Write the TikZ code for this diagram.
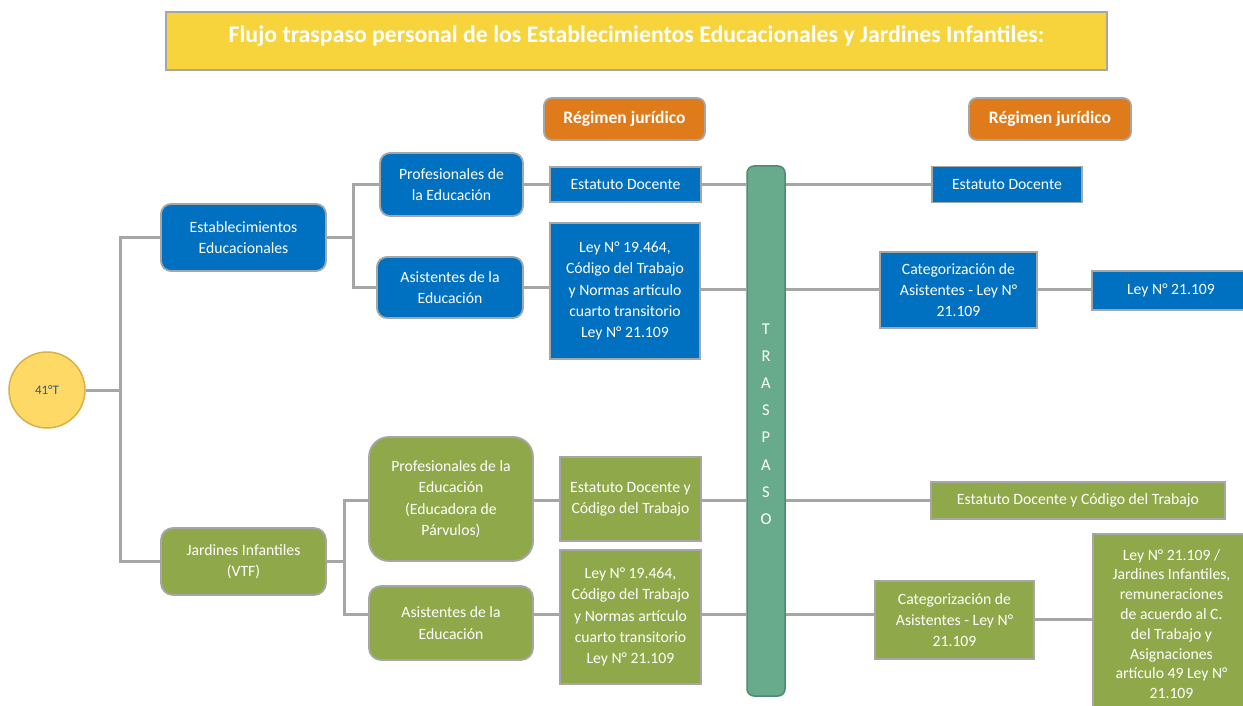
\documentclass[tikz,border=0pt]{standalone}
\usepackage{fontspec}
\setmainfont{Carlito}
\usetikzlibrary{backgrounds}
\definecolor{myblue}{HTML}{0070C0}
\definecolor{mygreen}{HTML}{8FA94A}
\definecolor{trasgreen}{HTML}{67AB8C}
\definecolor{trasborder}{HTML}{4F8A70}
\definecolor{myorange}{HTML}{E07B1C}
\definecolor{myyellow}{HTML}{F8D43C}
\definecolor{circfill}{HTML}{FFD966}
\definecolor{circborder}{HTML}{D9B04A}
\definecolor{boxborder}{HTML}{A6A6A6}
\definecolor{conncol}{HTML}{A6A6A6}
\definecolor{circtext}{HTML}{1F5C99}
\begin{document}
\begin{tikzpicture}[x=1pt,y=-1pt,
  base/.style={draw=boxborder, line width=1.8pt, text=white, align=center, inner sep=0pt,
    font=\fontsize{15.7}{21.3}\selectfont},
  blueR/.style={base, fill=myblue, rounded corners=10pt},
  blueS/.style={base, fill=myblue},
  greenR/.style={base, fill=mygreen, rounded corners=12pt},
  greenS/.style={base, fill=mygreen},
  regbox/.style={base, fill=myorange, rounded corners=8pt, font=\fontsize{17.5}{20}\selectfont\bfseries},
  conn/.style={draw=conncol, line width=3pt},
  sz/.style 2 args={minimum width=#1pt, minimum height=#2pt}
]
\useasboundingbox (0,0) rectangle (1243,706);

% title
\node[draw=boxborder, line width=1.8pt, fill=myyellow, sz={941}{58}, inner sep=0pt] (title) at (636.5,41) {};
\node[text=white, font=\fontsize{23.8}{26}\selectfont\bfseries, inner sep=0pt] (titletext) at (636.5,36)
  {Flujo traspaso personal de los Establecimientos Educacionales y Jardines Infantiles:};

% regimen
\node[regbox, sz={161}{42}] (reg1) at (624.5,119) {Régimen jurídico};
\node[regbox, sz={162}{42}] (reg2) at (1050,119) {Régimen jurídico};

% root
\node[circle, draw=circborder, line width=1.5pt, fill=circfill, minimum size=76pt, inner sep=0pt,
  text=circtext, font=\fontsize{13}{15}\selectfont] (t41) at (47,390) {41°T};

% blue part
\node[blueR, sz={165}{67}] (estab) at (243.5,237.5) {Establecimientos\\Educacionales};
\node[blueR, sz={143}{63}] (prof1) at (451.5,184.5) {Profesionales de\\la Educación};
\node[blueR, sz={146}{61}] (asis1) at (450,287.5) {Asistentes de la\\Educación};
\node[blueS, sz={151}{35}] (est1) at (625.5,184.5) {Estatuto Docente};
\node[blueS, sz={150}{136}] (ley1) at (625,291) {Ley N° 19.464,\\Código del Trabajo\\y Normas artículo\\cuarto transitorio\\Ley N° 21.109};
\node[blueS, sz={150}{36}] (est2) at (1007,184.5) {Estatuto Docente};
\node[blueS, sz={157}{76}] (cat1) at (958.5,290) {Categorización de\\Asistentes - Ley N°\\21.109};
\node[blueS, sz={158}{39}] (ley21) at (1171,290.5) {Ley N° 21.109};

% traspaso
\node[draw=trasborder, line width=1.5pt, fill=trasgreen, rounded corners=7pt, sz={38}{530}, inner sep=0pt] (tras) at (766,431) {};
\node[text=white, align=center, inner sep=0pt, font=\fontsize{16.5}{27.2}\selectfont] (trastext) at (766,424)
  {T\\R\\A\\S\\P\\A\\S\\O};

% green part
\node[greenR, sz={165}{67}] (jard) at (243.5,561.5) {Jardines Infantiles\\(VTF)};
\node[greenR, rounded corners=20pt, sz={164}{124}] (prof2) at (451,499) {Profesionales de la\\Educación\\(Educadora de\\Párvulos)};
\node[greenR, sz={164}{74}] (asis2) at (451,623) {Asistentes de la\\Educación};
\node[greenS, sz={141}{84}] (est3) at (630.5,499) {Estatuto Docente y\\Código del Trabajo};
\node[greenS, sz={141}{134}] (ley2) at (630.5,617) {Ley N° 19.464,\\Código del Trabajo\\y Normas artículo\\cuarto transitorio\\Ley N° 21.109};
\node[greenS, sz={294}{37}] (est4) at (1078,500.5) {Estatuto Docente y Código del Trabajo};
\node[greenS, sz={159}{78}] (cat2) at (954.5,620) {Categorización de\\Asistentes - Ley N°\\21.109};
\node[greenS, sz={157}{180}, font=\fontsize{15.7}{19.8}\selectfont] (ley3) at (1171.5,624) {Ley N° 21.109 /\\Jardines Infantiles,\\remuneraciones\\de acuerdo al C.\\del Trabajo y\\Asignaciones\\artículo 49 Ley N°\\21.109};

% coordinates
\coordinate (spine) at (120,390);
\coordinate (s1) at (353,237.5);
\coordinate (s2) at (344,561.5);
\coordinate (rowB) at (0,289);
\coordinate (rowC) at (0,500);
\coordinate (rowD) at (0,614);
\coordinate (rowE) at (0,619);

\begin{pgfonlayer}{background}
  \draw[conn] (t41.east) -- (spine);
  \draw[conn] (estab.west) -| (spine) |- (jard.west);
  \draw[conn] (estab.east) -- (s1);
  \draw[conn] (prof1.west) -| (s1) |- (asis1.west);
  \draw[conn] (prof1.east) -- (est1.west);
  \draw[conn] (est1.east) -- (est1.east -| tras.west);
  \draw[conn] (est1.east -| tras.east) -- (est2.west);
  \draw[conn] (asis1.east) -- (asis1.east -| ley1.west);
  \draw[conn] (ley1.east |- rowB) -- (tras.west |- rowB);
  \draw[conn] (tras.east |- rowB) -- (cat1.west |- rowB);
  \draw[conn] (cat1.east |- rowB) -- (ley21.west |- rowB);
  \draw[conn] (jard.east) -- (s2);
  \draw[conn] (prof2.west |- rowC) -| (s2) |- (asis2.west |- rowD);
  \draw[conn] (prof2.east |- rowC) -- (est3.west |- rowC);
  \draw[conn] (est3.east |- rowC) -- (tras.west |- rowC);
  \draw[conn] (tras.east |- rowC) -- (est4.west |- rowC);
  \draw[conn] (asis2.east |- rowD) -- (ley2.west |- rowD);
  \draw[conn] (ley2.east |- rowD) -- (tras.west |- rowD);
  \draw[conn] (tras.east |- rowD) -- (cat2.west |- rowD);
  \draw[conn] (cat2.east |- rowE) -- (ley3.west |- rowE);
\end{pgfonlayer}
\end{tikzpicture}
\end{document}
